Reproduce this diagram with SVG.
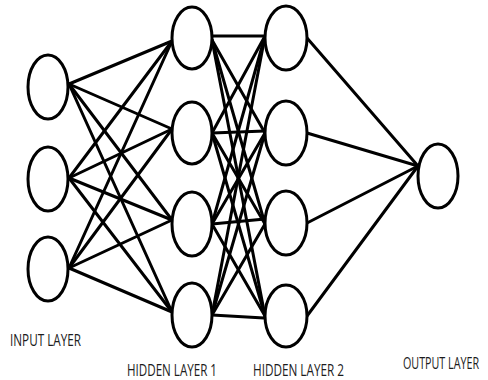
<svg xmlns="http://www.w3.org/2000/svg" width="488" height="380" viewBox="0 0 488 380">
  <style>
    .node ellipse { fill: #fff; stroke: #000; stroke-width: 3; }
    .edges line { stroke: #000; stroke-width: 3; stroke-linecap: round; }
    .label { font-family: "Open Sans", Lato, "Liberation Sans", sans-serif; font-size: 16px; fill: #1c1c1c; }
  </style>
  <rect width="488" height="380" fill="#fff"/>

  <!-- connections between layers -->
  <g id="connectors" class="edges">
    <!-- input -> hidden 1 -->
    <line x1="69" y1="84" x2="172" y2="41"/>
    <line x1="69" y1="84" x2="172" y2="129"/>
    <line x1="69" y1="84" x2="172" y2="220"/>
    <line x1="69" y1="84" x2="172" y2="312"/>
    <line x1="69" y1="178" x2="172" y2="41"/>
    <line x1="69" y1="178" x2="172" y2="129"/>
    <line x1="69" y1="178" x2="172" y2="220"/>
    <line x1="69" y1="178" x2="172" y2="312"/>
    <line x1="69" y1="268" x2="172" y2="41"/>
    <line x1="69" y1="268" x2="172" y2="129"/>
    <line x1="69" y1="268" x2="172" y2="220"/>
    <line x1="69" y1="268" x2="172" y2="312"/>
    <!-- hidden 1 -> hidden 2 -->
    <line x1="212" y1="36" x2="265" y2="36"/>
    <line x1="212" y1="40" x2="265" y2="133"/>
    <line x1="212" y1="40" x2="265" y2="224"/>
    <line x1="212" y1="40" x2="265" y2="316"/>
    <line x1="212" y1="133" x2="265" y2="36"/>
    <line x1="212" y1="133" x2="265" y2="131"/>
    <line x1="212" y1="133" x2="265" y2="224"/>
    <line x1="212" y1="133" x2="265" y2="316"/>
    <line x1="212" y1="224" x2="265" y2="36"/>
    <line x1="212" y1="224" x2="265" y2="133"/>
    <line x1="212" y1="224" x2="265" y2="219"/>
    <line x1="212" y1="224" x2="265" y2="316"/>
    <line x1="212" y1="315" x2="265" y2="36"/>
    <line x1="212" y1="315" x2="265" y2="133"/>
    <line x1="212" y1="315" x2="265" y2="224"/>
    <line x1="212" y1="315" x2="264" y2="318"/>
    <!-- hidden 2 -> output -->
    <line x1="307" y1="38" x2="418" y2="166"/>
    <line x1="307" y1="133" x2="418" y2="166"/>
    <line x1="307" y1="223" x2="418" y2="166"/>
    <line x1="307" y1="316" x2="418" y2="166"/>
  </g>

  <!-- input layer -->
  <g id="in1" class="node"><ellipse cx="48" cy="87" rx="20" ry="32"/></g>
  <g id="in2" class="node"><ellipse cx="48" cy="179" rx="20" ry="32"/></g>
  <g id="in3" class="node"><ellipse cx="48" cy="269" rx="20" ry="32"/></g>

  <!-- hidden layer 1 -->
  <g id="h1a" class="node"><ellipse cx="192" cy="38" rx="20" ry="31"/></g>
  <g id="h1b" class="node"><ellipse cx="192" cy="133" rx="20" ry="31"/></g>
  <g id="h1c" class="node"><ellipse cx="192" cy="224" rx="20" ry="32"/></g>
  <g id="h1d" class="node"><ellipse cx="192" cy="315" rx="20" ry="32"/></g>

  <!-- hidden layer 2 -->
  <g id="h2a" class="node"><ellipse cx="286" cy="38" rx="21" ry="32"/></g>
  <g id="h2b" class="node"><ellipse cx="286" cy="133" rx="21" ry="32"/></g>
  <g id="h2c" class="node"><ellipse cx="286" cy="223" rx="21" ry="32"/></g>
  <g id="h2d" class="node"><ellipse cx="286" cy="316" rx="21" ry="31"/></g>

  <!-- output layer -->
  <g id="out" class="node"><ellipse cx="438" cy="176" rx="20" ry="32"/></g>

  <!-- layer captions -->
  <text class="label" x="10" y="346" textLength="71" lengthAdjust="spacingAndGlyphs">INPUT LAYER</text>
  <text class="label" x="127" y="376" textLength="90" lengthAdjust="spacingAndGlyphs">HIDDEN LAYER 1</text>
  <text class="label" x="253" y="376" textLength="91" lengthAdjust="spacingAndGlyphs">HIDDEN LAYER 2</text>
  <text class="label" x="479" y="369" text-anchor="end" font-size="15.5" textLength="76" lengthAdjust="spacingAndGlyphs">OUTPUT LAYER</text>
</svg>
